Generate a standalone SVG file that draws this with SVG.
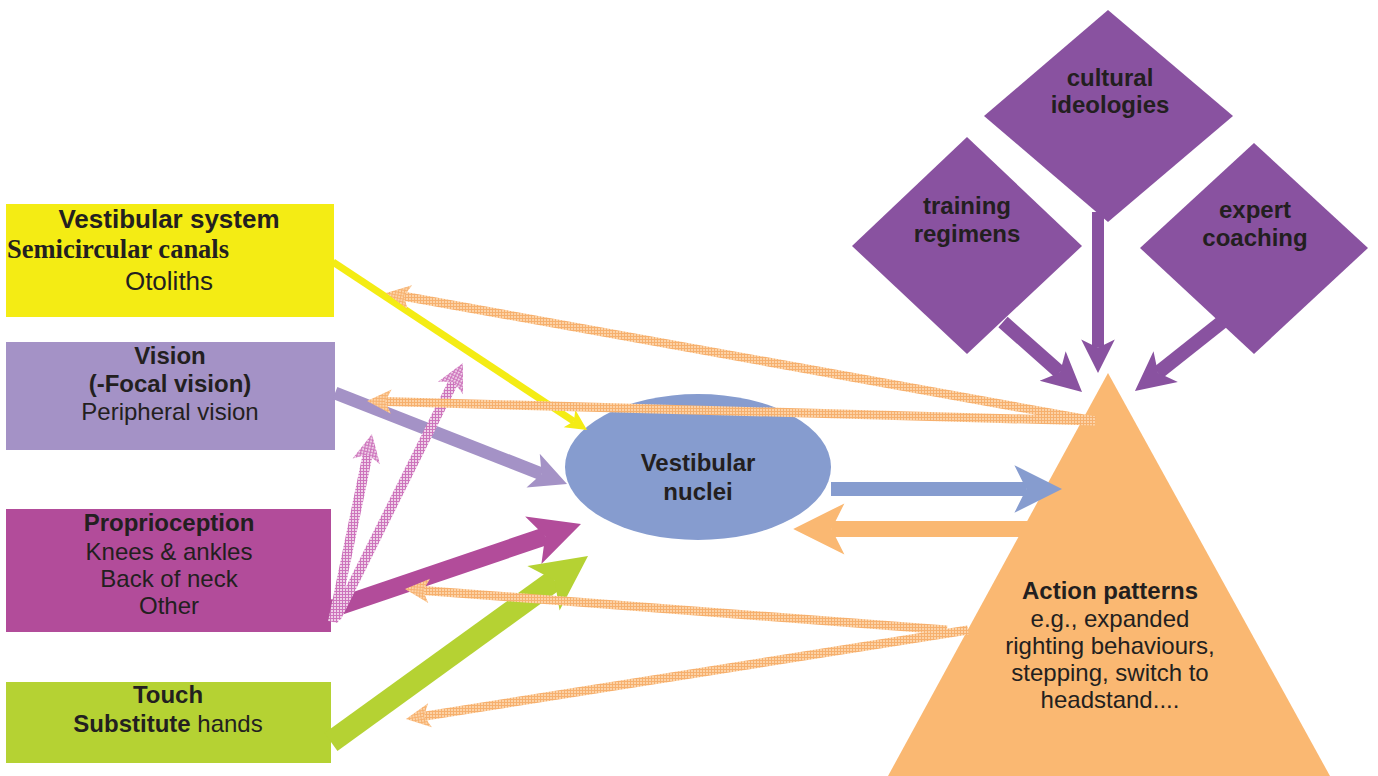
<svg xmlns="http://www.w3.org/2000/svg" width="1378" height="776" viewBox="0 0 1378 776">
<style>
text{font-family:"Liberation Sans",Arial,sans-serif;fill:#231F20;font-size:24px;text-anchor:middle}
.b{font-weight:bold}
.serif{font-family:"Liberation Serif","Times New Roman",serif}
.big{font-size:26px}
.big2{font-size:26.5px}
</style>
<defs>
<pattern id="hatchO" width="3" height="3" patternUnits="userSpaceOnUse">
<rect width="3" height="3" fill="#FCD2A6"/>
<path d="M0,0.5H3M0.5,0V3" stroke="#F6B06E" stroke-width="1"/>
</pattern>
<pattern id="hatchOm" width="1.2" height="1.2" patternUnits="userSpaceOnUse">
<rect width="1.2" height="1.2" fill="#FCD2A6"/>
<path d="M0,0.2H1.2M0.2,0V1.2" stroke="#F6B06E" stroke-width="0.4"/>
</pattern>
<pattern id="hatchP" width="3" height="3" patternUnits="userSpaceOnUse">
<rect width="3" height="3" fill="#EFD0E8"/>
<path d="M0,0.5H3M0.5,0V3" stroke="#CD74BC" stroke-width="1"/>
</pattern>
<pattern id="hatchPm" width="1.1" height="1.1" patternUnits="userSpaceOnUse">
<rect width="1.1" height="1.1" fill="#EFD0E8"/>
<path d="M0,0.2H1.1M0.2,0V1.1" stroke="#CD74BC" stroke-width="0.37"/>
</pattern>
<marker id="mY" viewBox="0 0 10 10" refX="2.5" refY="5" markerWidth="3" markerHeight="3" orient="auto" markerUnits="strokeWidth" overflow="visible"><path d="M0,0L10,5L0,10L2.5,5z" fill="#F4EC14"/></marker>
<marker id="mL" viewBox="0 0 10 10" refX="2.5" refY="5" markerWidth="2.8" markerHeight="2.8" orient="auto" markerUnits="strokeWidth" overflow="visible"><path d="M0,0L10,5L0,10L2.5,5z" fill="#A492C6"/></marker>
<marker id="mM" viewBox="0 0 10 10" refX="2.5" refY="5" markerWidth="2.8" markerHeight="2.8" orient="auto" markerUnits="strokeWidth" overflow="visible"><path d="M0,0L10,5L0,10L2.5,5z" fill="#B24C9A"/></marker>
<marker id="mG" viewBox="0 0 10 10" refX="2.5" refY="5" markerWidth="2.5" markerHeight="2.5" orient="auto" markerUnits="strokeWidth" overflow="visible"><path d="M0,0L10,5L0,10L2.5,5z" fill="#B5D233"/></marker>
<marker id="mB" viewBox="0 0 10 10" refX="2.5" refY="5" markerWidth="3.4" markerHeight="3.4" orient="auto" markerUnits="strokeWidth" overflow="visible"><path d="M0,0L10,5L0,10L2.5,5z" fill="#869CCF"/></marker>
<marker id="mO" viewBox="0 0 10 10" refX="2.5" refY="5" markerWidth="3.2" markerHeight="3.2" orient="auto" markerUnits="strokeWidth" overflow="visible"><path d="M0,0L10,5L0,10L2.5,5z" fill="#FAB872"/></marker>
<marker id="mP" viewBox="0 0 10 10" refX="2.5" refY="5" markerWidth="2.8" markerHeight="2.8" orient="auto" markerUnits="strokeWidth" overflow="visible"><path d="M0,0L10,5L0,10L2.5,5z" fill="#8952A0"/></marker>
<marker id="mHO" viewBox="0 0 10 10" refX="2.5" refY="5" markerWidth="2.7" markerHeight="2.7" orient="auto" markerUnits="strokeWidth" overflow="visible"><path d="M0,0L10,5L0,10L2.5,5z" fill="url(#hatchOm)"/></marker>
<marker id="mHP" viewBox="0 0 10 10" refX="2.5" refY="5" markerWidth="2.8" markerHeight="2.8" orient="auto" markerUnits="strokeWidth" overflow="visible"><path d="M0,0L10,5L0,10L2.5,5z" fill="url(#hatchPm)"/></marker>
</defs>
<rect width="1378" height="776" fill="#FFFFFF"/>

<g id="vestibular-system">
<rect x="6" y="204" width="328" height="113" fill="#F4EC14"/>
<text x="169" y="228" class="b big">Vestibular system</text>
<text x="7" y="258" class="b serif big2" style="text-anchor:start">Semicircular canals</text>
<text x="169" y="290" class="big">Otoliths</text>
</g>

<g id="vision">
<rect x="6" y="342" width="329" height="108" fill="#A492C6"/>
<text x="170" y="364" class="b">Vision</text>
<text x="170" y="392" class="b">(-Focal vision)</text>
<text x="170" y="420">Peripheral vision</text>
</g>

<g id="proprioception">
<rect x="6" y="509" width="325" height="123" fill="#B24C9A"/>
<text x="169" y="531" class="b">Proprioception</text>
<text x="169" y="560">Knees &amp; ankles</text>
<text x="169" y="587">Back of neck</text>
<text x="169" y="614">Other</text>
</g>

<g id="touch">
<rect x="6" y="682" width="325" height="81" fill="#B5D233"/>
<text x="168" y="703" class="b">Touch</text>
<text x="168" y="732"><tspan class="b">Substitute</tspan> hands</text>
</g>

<g id="vestibular-nuclei">
<ellipse cx="698" cy="467" rx="133" ry="73" fill="#869CCF"/>
<text x="698" y="471" class="b">Vestibular</text>
<text x="698" y="500" class="b">nuclei</text>
</g>

<g id="action-patterns">
<polygon points="1108,373 888,776 1330,776" fill="#FAB872"/>
<text x="1110" y="599" class="b">Action patterns</text>
<text x="1110" y="627">e.g., expanded</text>
<text x="1110" y="654">righting behaviours,</text>
<text x="1110" y="681">stepping, switch to</text>
<text x="1110" y="708">headstand....</text>
</g>

<g id="cultural-ideologies">
<polygon points="1108,10 1233,116 1108,222 984,116" fill="#8952A0"/>
<text x="1110" y="86" class="b">cultural</text>
<text x="1110" y="113" class="b">ideologies</text>
</g>

<g id="training-regimens">
<polygon points="967,137 1082,246 967,354 852,246" fill="#8952A0"/>
<text x="967" y="214" class="b">training</text>
<text x="967" y="242" class="b">regimens</text>
</g>

<g id="expert-coaching">
<polygon points="1254,143 1368,248 1254,354 1140,248" fill="#8952A0"/>
<text x="1255" y="218" class="b">expert</text>
<text x="1255" y="246" class="b">coaching</text>
</g>

<g id="connectors" fill="none">
<line x1="333" y1="262" x2="573.9" y2="421.3" stroke="#F4EC14" stroke-width="7" marker-end="url(#mY)"/>
<line x1="335" y1="393" x2="541.6" y2="474" stroke="#A492C6" stroke-width="13" marker-end="url(#mL)"/>
<line x1="331" y1="609" x2="545.2" y2="536.2" stroke="#B24C9A" stroke-width="18" marker-end="url(#mM)"/>
<line x1="331" y1="742" x2="554.6" y2="580.2" stroke="#B5D233" stroke-width="22" marker-end="url(#mG)"/>
<line x1="831" y1="489" x2="1026.3" y2="489" stroke="#869CCF" stroke-width="14" marker-end="url(#mB)"/>
<line x1="1040" y1="529" x2="831.6" y2="529" stroke="#FAB872" stroke-width="16" marker-end="url(#mO)"/>
<line x1="1098" y1="212" x2="1098" y2="347.8" stroke="#8952A0" stroke-width="12" marker-end="url(#mP)"/>
<line x1="1003" y1="322" x2="1060" y2="372.5" stroke="#8952A0" stroke-width="14" marker-end="url(#mP)"/>
<line x1="1222" y1="322" x2="1158" y2="372.7" stroke="#8952A0" stroke-width="14" marker-end="url(#mP)"/>
<line x1="333" y1="622" x2="367.7" y2="454.6" stroke="url(#hatchP)" stroke-width="10" marker-end="url(#mHP)"/>
<line x1="336" y1="618" x2="453.6" y2="381.8" stroke="url(#hatchP)" stroke-width="10" marker-end="url(#mHP)"/>
<line x1="1095" y1="421" x2="403.9" y2="296.2" stroke="url(#hatchO)" stroke-width="9" marker-end="url(#mHO)"/>
<line x1="1095" y1="421" x2="385.2" y2="401.5" stroke="url(#hatchO)" stroke-width="9" marker-end="url(#mHO)"/>
<line x1="947" y1="630" x2="423.1" y2="590.4" stroke="url(#hatchO)" stroke-width="9" marker-end="url(#mHO)"/>
<line x1="968" y1="630" x2="424" y2="716.2" stroke="url(#hatchO)" stroke-width="9" marker-end="url(#mHO)"/>
</g>
</svg>
